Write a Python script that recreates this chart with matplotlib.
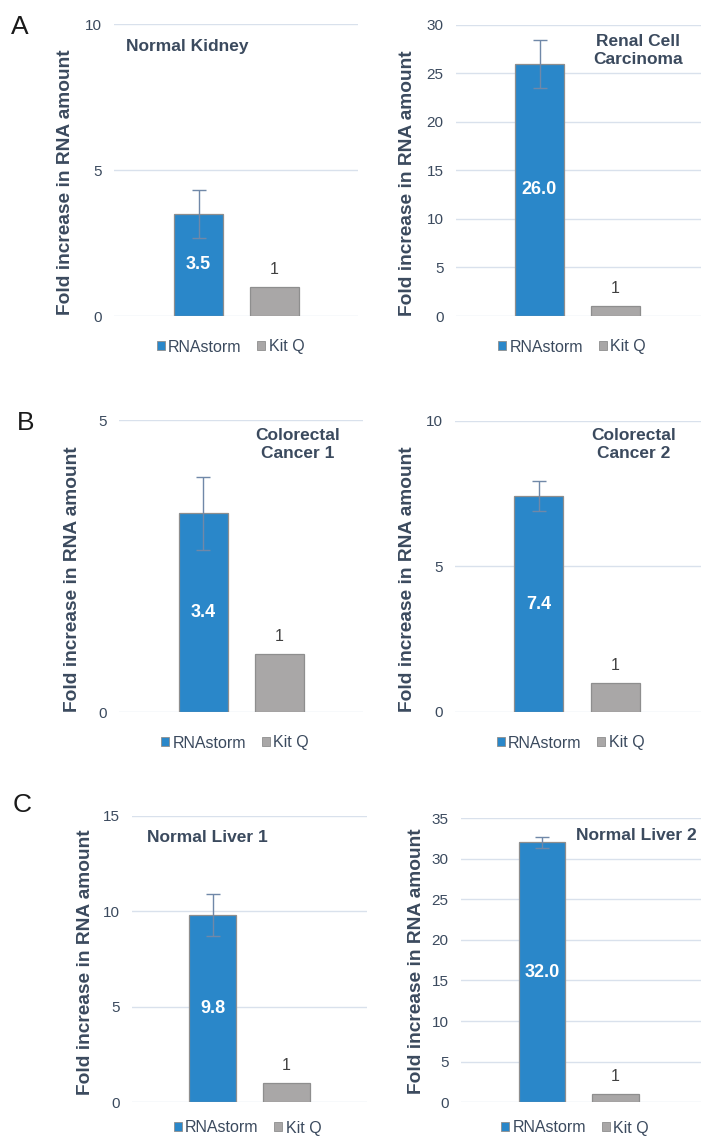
import matplotlib
matplotlib.use("Agg")
import matplotlib.pyplot as plt
from matplotlib.patches import Patch

plt.rcParams['font.family'] = ['Liberation Sans', 'DejaVu Sans']

# ---------------- data ----------------
series = ["RNAstorm", "Kit Q"]
titles = ["Normal Kidney", "Renal Cell\nCarcinoma", "Colorectal\nCancer 1",
          "Colorectal\nCancer 2", "Normal Liver 1", "Normal Liver 2"]
rnastorm = [3.5, 26.0, 3.4, 7.4, 9.8, 32.0]
rnastorm_err = [0.83, 2.5, 0.62, 0.52, 1.1, 0.7]
kitq = [1, 1, 1, 1, 1, 1]
ymax = [10, 30, 5, 10, 15, 35]
ystep = [5, 5, 5, 5, 5, 5]
panel_letters = ["A", "B", "C"]

# ---------------- style ----------------
W, H = 701, 1136
BLUE = "#2a87c9"
GRAY = "#a9a7a7"
EDGE = "#8e8e8e"
ERR = "#7088a8"
TXT = "#3b4a5e"
GRID = "#d9e1ec"

# layout in pixels: (left, right, y_zero, y_top, bar0_center, bar1_center, bar_width)
layout = [
    (114, 358, 316.0, 24.0, 198.5, 274.5, 49),
    (456, 701, 316.0, 25.0, 539.5, 615.5, 49),
    (119, 363, 712.0, 420.0, 203.0, 279.5, 49),
    (455, 701, 711.7, 420.7, 538.5, 615.0, 49),
    (132, 367, 1102.3, 815.7, 212.5, 286.5, 47),
    (461, 701, 1102.3, 818.0, 542.0, 615.5, 46.5),
]
# title placement: (x px, y px, ha)
title_pos = [
    (126, 46, "left"),
    (638, 50, "center"),
    (298, 445, "center"),
    (634, 445, "center"),
    (147, 837, "left"),
    (697, 835, "right"),
]
ylabel_xy = [(66, 182), (408, 183.5), (73, 579.5), (408, 579.5), (86, 962), (416, 961.5)]
legend_xy = [(230.5, 347), (572, 347), (235, 743), (570.5, 743), (247.5, 1128), (575, 1128)]
letter_pos = [(20, 27), (26, 423), (22, 805)]

fig = plt.figure(figsize=(W / 100, H / 100), dpi=100)

for i in range(6):
    L, R, y0, yt, c0, c1, bw = layout[i]
    s = c1 - c0
    ax = fig.add_axes([L / W, 1 - y0 / H, (R - L) / W, (y0 - yt) / H])
    ax.set_xlim((L - c0) / s, (R - c0) / s)
    ax.set_ylim(0, ymax[i])
    wd = bw / s
    ax.bar([0], [rnastorm[i]], width=wd, color=BLUE, edgecolor=EDGE, linewidth=0.9, zorder=3)
    ax.bar([1], [kitq[i]], width=wd, color=GRAY, edgecolor=EDGE, linewidth=0.9, zorder=3)
    ax.errorbar([0], [rnastorm[i]], yerr=[rnastorm_err[i]], fmt="none", ecolor=ERR,
                elinewidth=1.0, capsize=5, capthick=1.0, zorder=4)
    ax.text(0, rnastorm[i] / 2, f"{rnastorm[i]:.1f}", color="white", fontsize=13,
            fontweight="bold", ha="center", va="center", zorder=5)
    ax.annotate(f"{kitq[i]}", xy=(1, kitq[i]), xytext=(0, 12.5), textcoords="offset points",
                ha="center", va="center", fontsize=11.5, color="#404040")
    ticks = list(range(0, ymax[i] + 1, ystep[i]))
    ax.set_yticks(ticks)
    ax.set_yticklabels([str(t) for t in ticks], fontsize=11, color=TXT)
    ax.set_xticks([])
    ax.tick_params(axis="y", length=0, pad=9)
    ax.grid(axis="y", color=GRID, linewidth=1.0, zorder=0)
    for sp in ax.spines.values():
        sp.set_visible(False)
    ax.set_facecolor("none")
    lx, ly = ylabel_xy[i]
    fig.text(lx / W, 1 - ly / H, "Fold increase in RNA amount",
             rotation=90, ha="center", va="center", fontsize=13.8, fontweight="bold", color=TXT)
    tx, ty, ha = title_pos[i]
    fig.text(tx / W, 1 - ty / H, titles[i], ha=ha, va="center", fontsize=12.5,
             fontweight="bold", color=TXT, linespacing=1.25)
    handles = [Patch(facecolor=BLUE, edgecolor=EDGE, linewidth=0.6),
               Patch(facecolor=GRAY, edgecolor=EDGE, linewidth=0.6)]
    gx, gy = legend_xy[i]
    fig.legend(handles, series, loc="center", bbox_to_anchor=(gx / W, 1 - gy / H),
               ncol=2, frameon=False, fontsize=11.5, handlelength=0.5, handleheight=0.5,
               handletextpad=0.2, columnspacing=1.0, labelcolor=TXT,
               borderpad=0, borderaxespad=0)

for k, (lx, ly) in enumerate(letter_pos):
    fig.text(lx / W, 1 - ly / H, panel_letters[k], ha="center", va="center", fontsize=19,
             color="#1a1a1a")

fig.savefig("out.png", dpi=100, facecolor="white")
